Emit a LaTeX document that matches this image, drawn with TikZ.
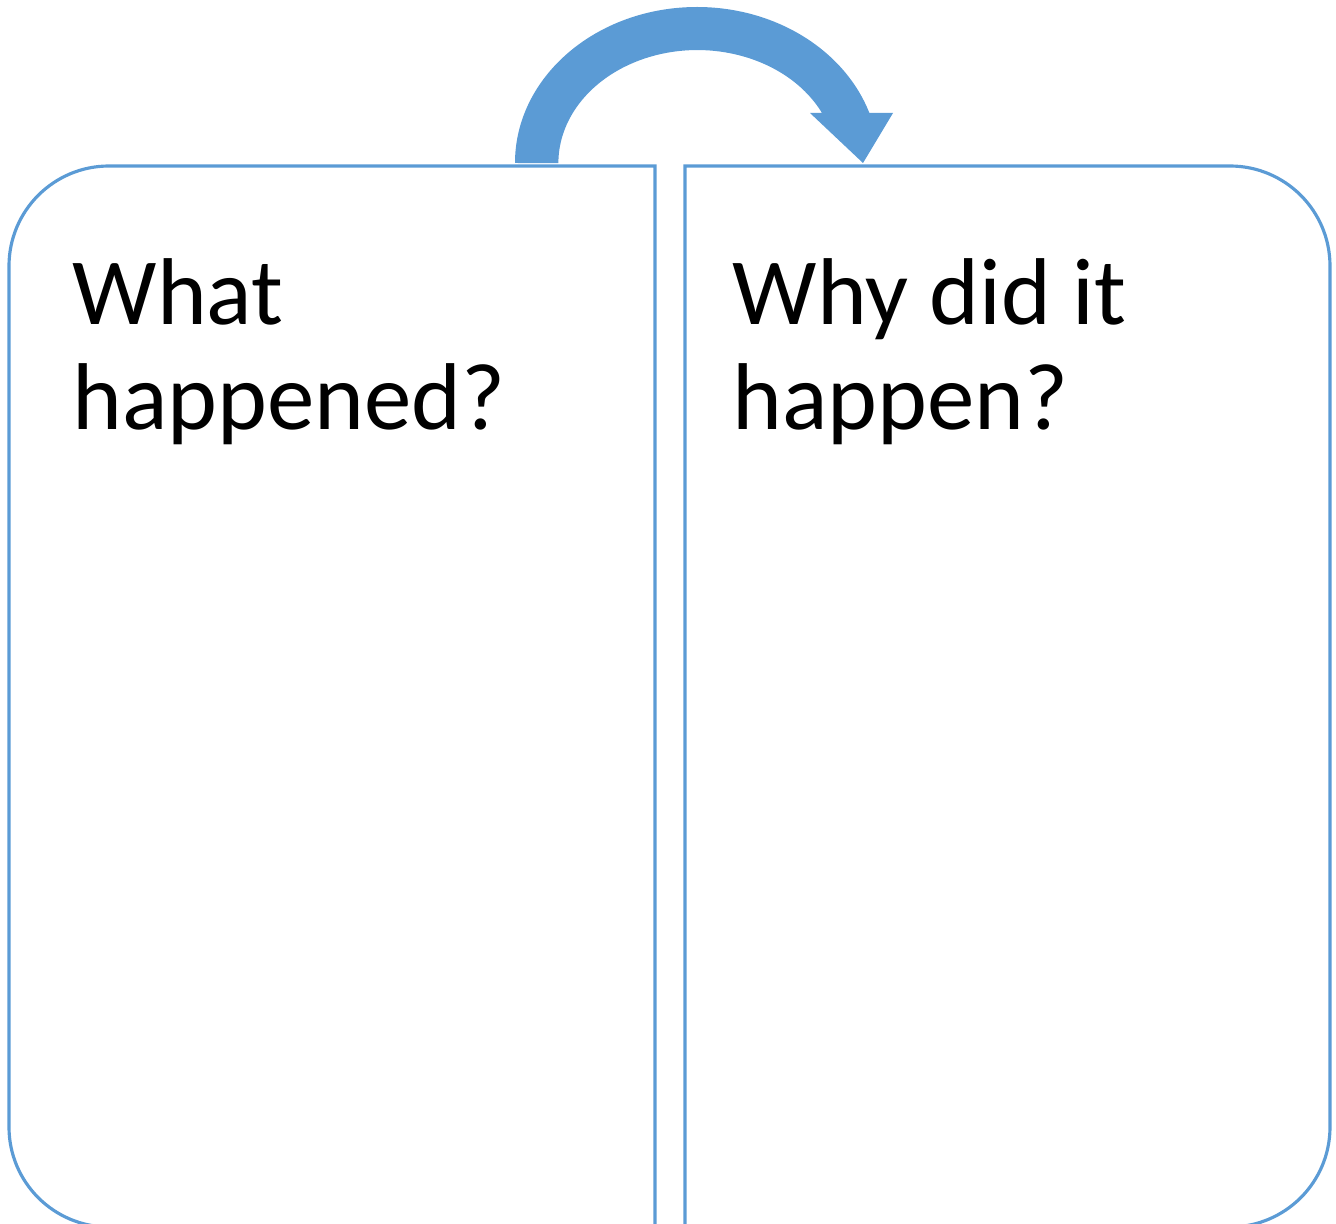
\documentclass[tikz,border=0pt]{standalone}
\usepackage{fontspec}
\setmainfont{Carlito}
\usepackage{tikz}
\usetikzlibrary{positioning,calc}
\usepackage{xcolor}
\definecolor{officeblue}{RGB}{91,155,213}

\begin{document}
\begin{tikzpicture}[
    panel/.style={draw=officeblue, line width=0.9pt},
    question/.style={anchor=base west, align=left, inner sep=0pt, font=\fontsize{27pt}{29.9pt}\selectfont},
    bigarrow/.style={fill=officeblue, draw=none}
]
\useasboundingbox (0,0) rectangle (13.36,12.23);
\clip (0,0) rectangle (13.36,12.23);
% the two columns
\draw[panel] (6.55,-0.04) -- (6.55,10.57) -- (1.09,10.57)
    arc[start angle=90, end angle=180, radius=1] -- (0.09,0.96)
    arc[start angle=180, end angle=270, radius=1] -- cycle;
\draw[panel] (6.85,-0.04) -- (6.85,10.57) -- (12.30,10.57)
    arc[start angle=90, end angle=0, radius=1] -- (13.30,0.96)
    arc[start angle=0, end angle=-90, radius=1] -- cycle;
\node[question] (what) at (0.72,7.93) {What\\happened?};
\node[question] (why) at (7.32,7.93) {Why did it\\happen?};
% curved arrow from left to right
\fill[bigarrow] (5.15,10.60)
    arc[start angle=180, end angle=18.7, x radius=1.82, y radius=1.56]
    -- (8.93,11.10) -- (8.63,10.60) -- (8.10,11.10) -- (8.22,11.10)
    arc[start angle=26.3, end angle=180, x radius=1.39, y radius=1.13]
    -- cycle;
\end{tikzpicture}
\end{document}
